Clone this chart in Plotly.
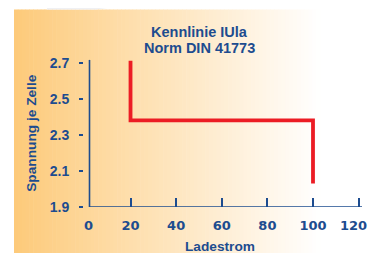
import plotly.graph_objects as go

# ---- data ----
line_x = [20, 20, 100, 100]
line_y = [2.71, 2.38, 2.38, 2.03]
x_ticks = [0, 20, 40, 60, 80, 100, 120]
y_ticks = [1.9, 2.1, 2.3, 2.5, 2.7]
y_tick_labels = ["1.9", "2.1", "2.3", "2.5", "2.7"]
title_lines = ["Kennlinie IUla", "Norm DIN 41773"]
x_title = "Ladestrom"
y_title = "Spannung je Zelle"

# The page body has an 8px margin, so the figure is sized to the body and
# every reference-pixel position is shifted by OFF.
OFF = 8
W, H = 377 - 2 * OFF, 253 - OFF
# plot area in reference pixels
P_LEFT, P_RIGHT, P_TOP, P_BOTTOM = 84, 362, 59.4, 207
L = P_LEFT - OFF
R = W - (P_RIGHT - OFF)
T = P_TOP - OFF
B = H - (P_BOTTOM - OFF)
pw = W - L - R
ph = H - T - B
SCALE = 2.281          # px per x unit
X0PIX = 84.9           # reference pixel of x = 0
xmin = (P_LEFT - X0PIX) / SCALE
xmax = (P_RIGHT - X0PIX) / SCALE
BLUE = "#1D4C8F"
RED = "#EC1C24"


def px(xp):
    return (xp - P_LEFT) / pw


def py(yp):
    return (P_BOTTOM - yp) / ph


fig = go.Figure()
fig.add_trace(go.Scatter(x=line_x, y=line_y, mode="lines",
                         line=dict(color=RED, width=3.8), hoverinfo="skip",
                         showlegend=False))

shapes = []
# gradient background (stripes)
gx0, gx1, gtop = 14, 320, 10
n = 80
c0 = (253, 202, 122)
for i in range(n):
    a = gx0 + (gx1 - gx0) * i / n
    b = gx0 + (gx1 - gx0) * (i + 1) / n + 0.6
    f = (i + 0.5) / n
    col = tuple(round(c + (255 - c) * f) for c in c0)
    shapes.append(dict(type="rect", xref="paper", yref="paper",
                       x0=px(a), x1=px(b), y0=py(260), y1=py(gtop),
                       line=dict(width=0), fillcolor="rgb(%d,%d,%d)" % col,
                       layer="below"))
# faint grey wedge at top
shapes.append(dict(type="path", xref="paper", yref="paper",
                   path="M %f %f L %f %f L %f %f L %f %f Z" % (
                       px(47), py(OFF), px(112), py(OFF), px(95), py(10), px(47), py(10)),
                   line=dict(width=0), fillcolor="#EFF0F3", layer="below"))
# axis lines
AX_X = 89.5
shapes.append(dict(type="line", xref="paper", yref="y", x0=px(AX_X), x1=px(AX_X),
                   y0=1.9, y1=2.715, line=dict(color=BLUE, width=1.6)))
shapes.append(dict(type="line", xref="paper", yref="y", x0=px(AX_X), x1=px(362),
                   y0=1.9, y1=1.9, line=dict(color=BLUE, width=1.6)))

TICKFONT = dict(family="DejaVu Sans", size=13, color=BLUE, weight="bold")
annotations = [
    dict(text="<b>%s</b>" % title_lines[0], x=px(199), y=py(32.5), xref="paper", yref="paper",
         showarrow=False, xanchor="center", yanchor="middle",
         font=dict(family="Liberation Sans", size=14.5, color=BLUE)),
    dict(text="<b>%s</b>" % title_lines[1], x=px(199), y=py(48.8), xref="paper", yref="paper",
         showarrow=False, xanchor="center", yanchor="middle",
         font=dict(family="Liberation Sans", size=14.5, color=BLUE)),
    dict(text="<b>%s</b>" % x_title, x=px(220), y=py(246.5), xref="paper", yref="paper",
         showarrow=False, xanchor="center", yanchor="middle",
         font=dict(family="Liberation Sans", size=13.7, color=BLUE)),
    dict(text="<b>%s</b>" % y_title, x=px(32), y=py(133), xref="paper", yref="paper",
         showarrow=False, xanchor="center", yanchor="middle", textangle=-90,
         font=dict(family="Liberation Sans", size=13.7, color=BLUE)),
    # label for the first x tick (its tick mark is hidden by the y axis line)
    dict(text=str(x_ticks[0]), x=px(88), y=py(225), xref="paper", yref="paper",
         showarrow=False, xanchor="center", yanchor="middle", font=TICKFONT),
    # label for the last x tick, kept inside the figure edge
    dict(text=str(x_ticks[-1]), x=px(369), y=py(225), xref="paper", yref="paper",
         showarrow=False, xanchor="right", yanchor="middle", font=TICKFONT),
]

fig.update_layout(
    width=W, height=H,
    margin=dict(l=L, r=R, t=T, b=B, pad=0),
    paper_bgcolor="white", plot_bgcolor="rgba(0,0,0,0)",
    shapes=shapes, annotations=annotations, showlegend=False,
    xaxis=dict(range=[xmin, xmax], tickvals=x_ticks[1:],
               ticktext=[str(v) for v in x_ticks[1:-1]] + [""],
               ticks="inside", ticklen=9,
               tickwidth=2, tickcolor=BLUE, showgrid=False, zeroline=False,
               showline=False, ticklabelstandoff=9, tickfont=TICKFONT),
    yaxis=dict(range=[1.9, 2.72], tickvals=y_ticks, ticktext=y_tick_labels,
               ticks="outside", ticklen=4, tickwidth=2, tickcolor=BLUE,
               showgrid=False, zeroline=False, showline=False, ticklabelstandoff=7,
               tickfont=dict(family="Liberation Sans", size=14, color=BLUE, weight="bold")),
)

fig.write_html("out.html")
